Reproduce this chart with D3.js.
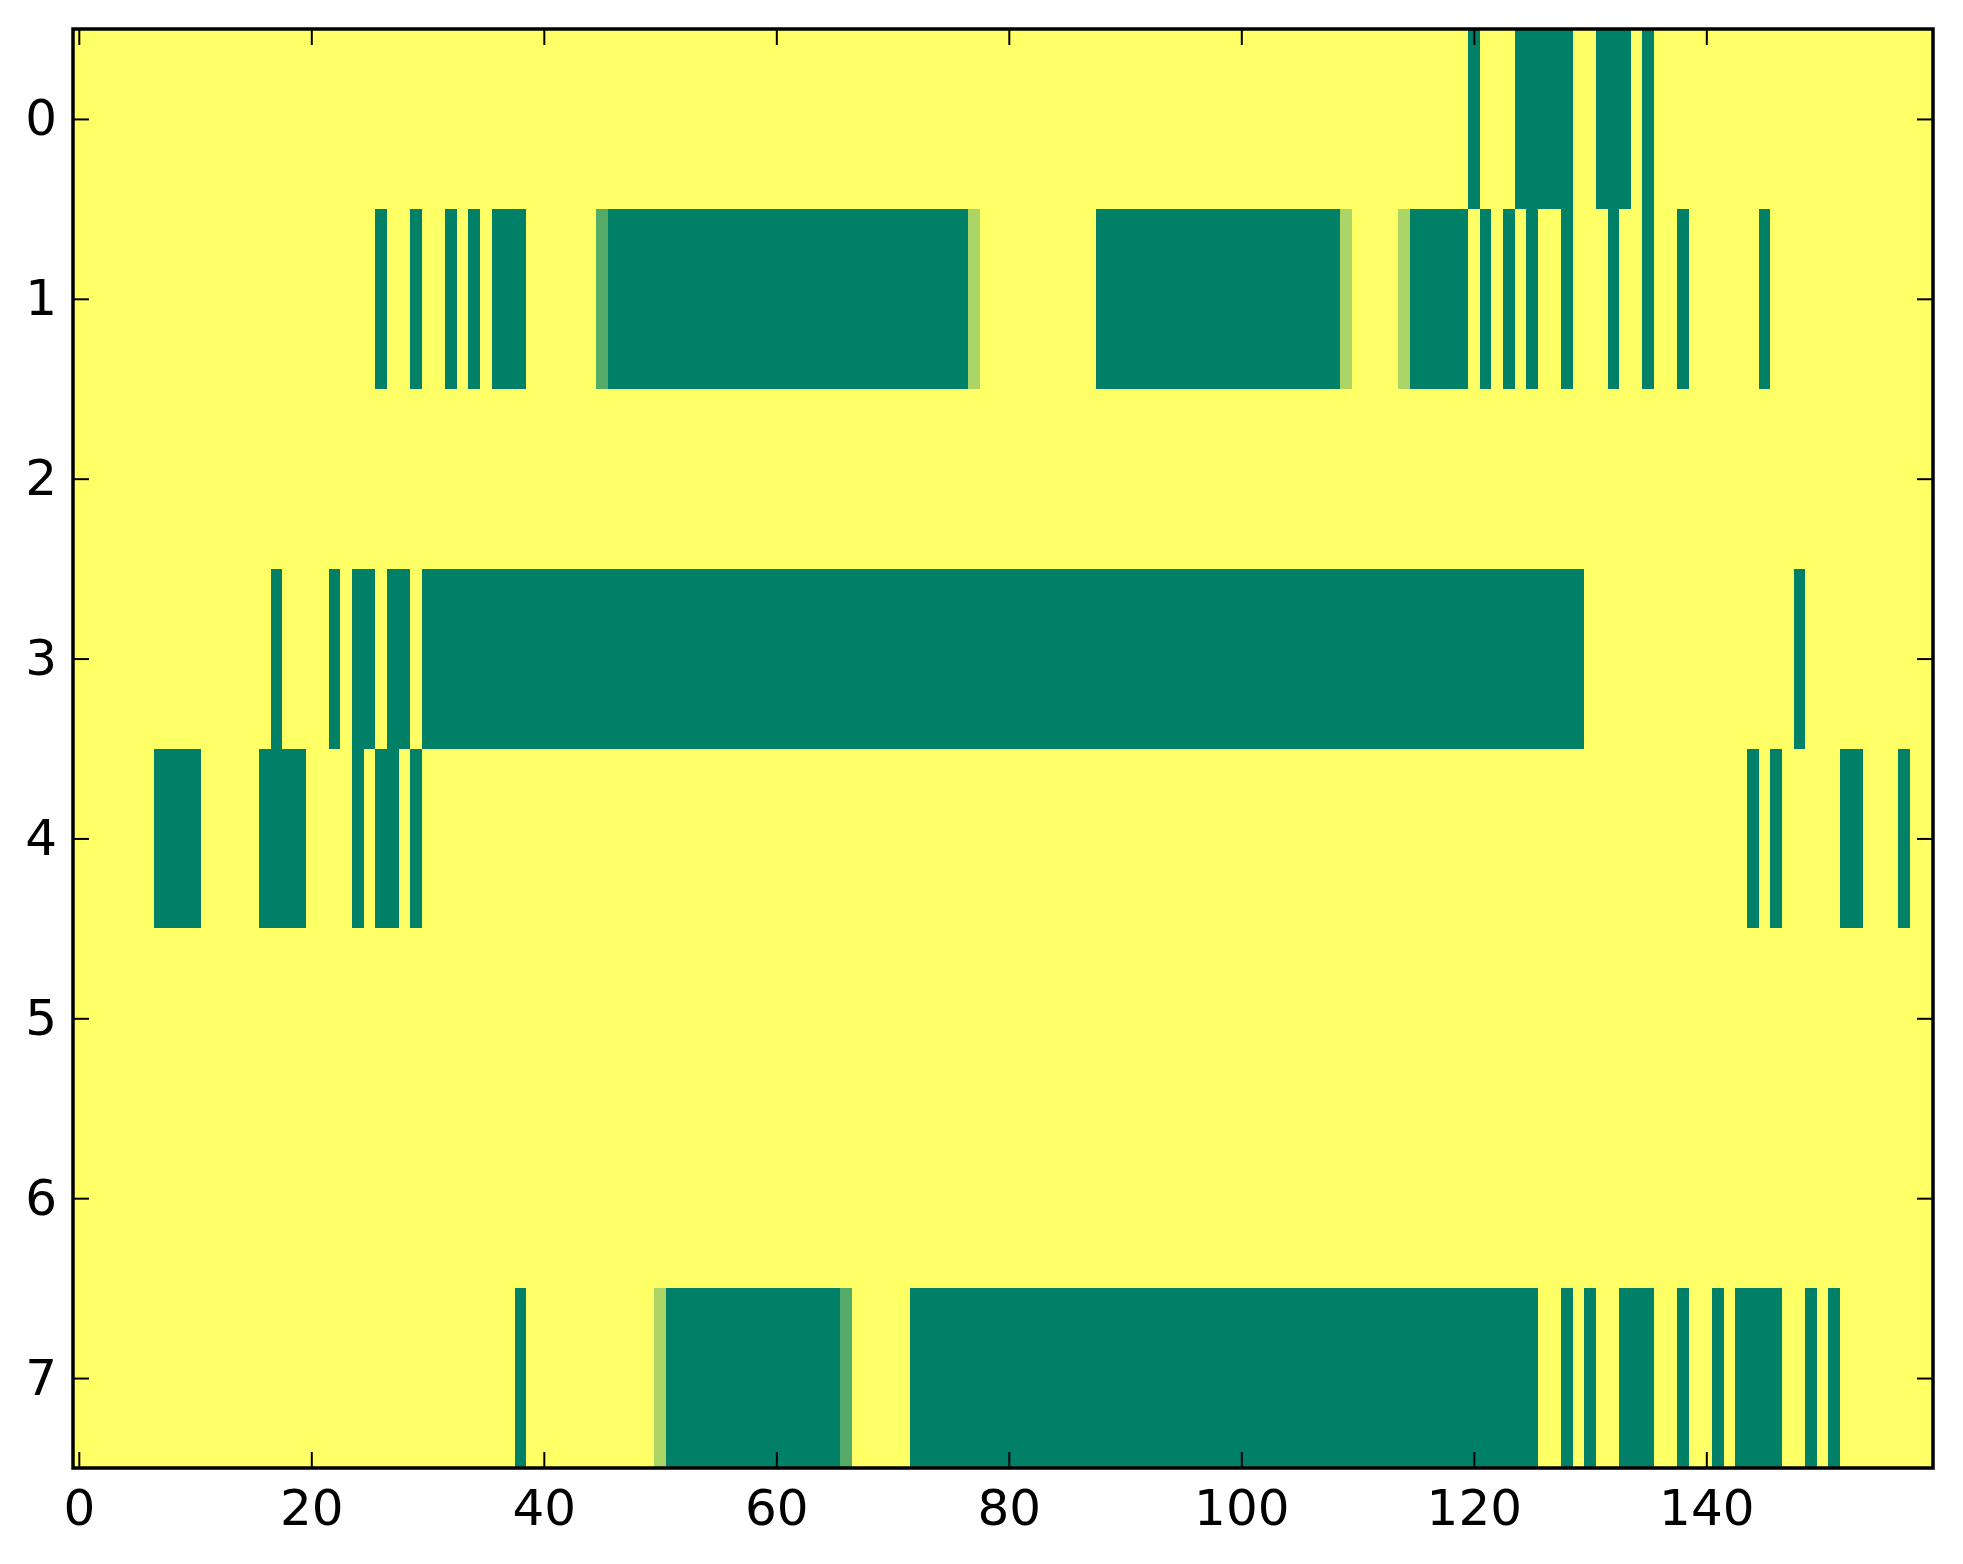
<!doctype html>
<html>
  <head>
    <style>
      body {
        margin: 0;
        background: white;
      }
      .axis text {
        font-family: 'DejaVu Sans', sans-serif;
        font-size: 50px;
        fill: black;
      }
      .axis line {
        stroke: black;
        stroke-width: 2px;
      }
    </style>
    <script src="https://d3js.org/d3.v7.min.js"></script>
  </head>

  <body onload='init()'>
    <svg class="chart" width=1963 height=1564></svg>
    <script>
      // one array per row of the image, 160 values each (1 = yellow, 0 = green)
      var row0 = [
        1,1,1,1,1,1,1,1,1,1,1,1,1,1,1,1,1,1,1,1,
        1,1,1,1,1,1,1,1,1,1,1,1,1,1,1,1,1,1,1,1,
        1,1,1,1,1,1,1,1,1,1,1,1,1,1,1,1,1,1,1,1,
        1,1,1,1,1,1,1,1,1,1,1,1,1,1,1,1,1,1,1,1,
        1,1,1,1,1,1,1,1,1,1,1,1,1,1,1,1,1,1,1,1,
        1,1,1,1,1,1,1,1,1,1,1,1,1,1,1,1,1,1,1,1,
        0,1,1,1,0,0,0,0,0,1,1,0,0,0,1,0,1,1,1,1,
        1,1,1,1,1,1,1,1,1,1,1,1,1,1,1,1,1,1,1,1
      ];
      var row1 = [
        1,1,1,1,1,1,1,1,1,1,1,1,1,1,1,1,1,1,1,1,
        1,1,1,1,1,1,0,1,1,0,1,1,0,1,0,1,0,0,0,1,
        1,1,1,1,1,0.33,0,0,0,0,0,0,0,0,0,0,0,0,0,0,
        0,0,0,0,0,0,0,0,0,0,0,0,0,0,0,0,0,0.67,1,1,
        1,1,1,1,1,1,1,1,0,0,0,0,0,0,0,0,0,0,0,0,
        0,0,0,0,0,0,0,0,0,0.67,1,1,1,1,0.67,0,0,0,0,0,
        1,0,1,0,1,0,1,1,0,1,1,1,0,1,1,0,1,1,0,1,
        1,1,1,1,1,0,1,1,1,1,1,1,1,1,1,1,1,1,1,1
      ];
      var row2 = [
        1,1,1,1,1,1,1,1,1,1,1,1,1,1,1,1,1,1,1,1,
        1,1,1,1,1,1,1,1,1,1,1,1,1,1,1,1,1,1,1,1,
        1,1,1,1,1,1,1,1,1,1,1,1,1,1,1,1,1,1,1,1,
        1,1,1,1,1,1,1,1,1,1,1,1,1,1,1,1,1,1,1,1,
        1,1,1,1,1,1,1,1,1,1,1,1,1,1,1,1,1,1,1,1,
        1,1,1,1,1,1,1,1,1,1,1,1,1,1,1,1,1,1,1,1,
        1,1,1,1,1,1,1,1,1,1,1,1,1,1,1,1,1,1,1,1,
        1,1,1,1,1,1,1,1,1,1,1,1,1,1,1,1,1,1,1,1
      ];
      var row3 = [
        1,1,1,1,1,1,1,1,1,1,1,1,1,1,1,1,1,0,1,1,
        1,1,0,1,0,0,1,0,0,1,0,0,0,0,0,0,0,0,0,0,
        0,0,0,0,0,0,0,0,0,0,0,0,0,0,0,0,0,0,0,0,
        0,0,0,0,0,0,0,0,0,0,0,0,0,0,0,0,0,0,0,0,
        0,0,0,0,0,0,0,0,0,0,0,0,0,0,0,0,0,0,0,0,
        0,0,0,0,0,0,0,0,0,0,0,0,0,0,0,0,0,0,0,0,
        0,0,0,0,0,0,0,0,0,0,1,1,1,1,1,1,1,1,1,1,
        1,1,1,1,1,1,1,1,0,1,1,1,1,1,1,1,1,1,1,1
      ];
      var row4 = [
        1,1,1,1,1,1,1,0,0,0,0,1,1,1,1,1,0,0,0,0,
        1,1,1,1,0,1,0,0,1,0,1,1,1,1,1,1,1,1,1,1,
        1,1,1,1,1,1,1,1,1,1,1,1,1,1,1,1,1,1,1,1,
        1,1,1,1,1,1,1,1,1,1,1,1,1,1,1,1,1,1,1,1,
        1,1,1,1,1,1,1,1,1,1,1,1,1,1,1,1,1,1,1,1,
        1,1,1,1,1,1,1,1,1,1,1,1,1,1,1,1,1,1,1,1,
        1,1,1,1,1,1,1,1,1,1,1,1,1,1,1,1,1,1,1,1,
        1,1,1,1,0,1,0,1,1,1,1,1,0,0,1,1,1,0,1,1
      ];
      var row5 = [
        1,1,1,1,1,1,1,1,1,1,1,1,1,1,1,1,1,1,1,1,
        1,1,1,1,1,1,1,1,1,1,1,1,1,1,1,1,1,1,1,1,
        1,1,1,1,1,1,1,1,1,1,1,1,1,1,1,1,1,1,1,1,
        1,1,1,1,1,1,1,1,1,1,1,1,1,1,1,1,1,1,1,1,
        1,1,1,1,1,1,1,1,1,1,1,1,1,1,1,1,1,1,1,1,
        1,1,1,1,1,1,1,1,1,1,1,1,1,1,1,1,1,1,1,1,
        1,1,1,1,1,1,1,1,1,1,1,1,1,1,1,1,1,1,1,1,
        1,1,1,1,1,1,1,1,1,1,1,1,1,1,1,1,1,1,1,1
      ];
      var row6 = [
        1,1,1,1,1,1,1,1,1,1,1,1,1,1,1,1,1,1,1,1,
        1,1,1,1,1,1,1,1,1,1,1,1,1,1,1,1,1,1,1,1,
        1,1,1,1,1,1,1,1,1,1,1,1,1,1,1,1,1,1,1,1,
        1,1,1,1,1,1,1,1,1,1,1,1,1,1,1,1,1,1,1,1,
        1,1,1,1,1,1,1,1,1,1,1,1,1,1,1,1,1,1,1,1,
        1,1,1,1,1,1,1,1,1,1,1,1,1,1,1,1,1,1,1,1,
        1,1,1,1,1,1,1,1,1,1,1,1,1,1,1,1,1,1,1,1,
        1,1,1,1,1,1,1,1,1,1,1,1,1,1,1,1,1,1,1,1
      ];
      var row7 = [
        1,1,1,1,1,1,1,1,1,1,1,1,1,1,1,1,1,1,1,1,
        1,1,1,1,1,1,1,1,1,1,1,1,1,1,1,1,1,1,0,1,
        1,1,1,1,1,1,1,1,1,1,0.67,0,0,0,0,0,0,0,0,0,
        0,0,0,0,0,0,0.33,1,1,1,1,1,0,0,0,0,0,0,0,0,
        0,0,0,0,0,0,0,0,0,0,0,0,0,0,0,0,0,0,0,0,
        0,0,0,0,0,0,0,0,0,0,0,0,0,0,0,0,0,0,0,0,
        0,0,0,0,0,0,1,1,0,1,0,1,1,0,0,0,1,1,0,1,
        1,0,1,0,0,0,0,1,1,0,1,0,1,1,1,1,1,1,1,1
      ];
      var rows = [row0, row1, row2, row3, row4, row5, row6, row7];

      var xTicks = [0, 20, 40, 60, 80, 100, 120, 140];
      var yTicks = [0, 1, 2, 3, 4, 5, 6, 7];

      function init(){
        var svg = d3.select("svg"),
          left = 73,
          right = 1933,
          top = 29,
          bottom = 1468;

        var nCols = row0.length;
        var xScale = d3.scaleLinear().domain([-0.5, nCols - 0.5]).range([left, right]);
        var yScale = d3.scaleLinear().domain([-0.5, rows.length - 0.5]).range([top, bottom]);
        // matplotlib "summer": green at 0, yellow at 1
        var color = d3.scaleLinear().domain([0, 1])
          .range(["rgb(0,128,102)", "rgb(255,255,102)"]);

        var cells = [];
        rows.forEach(function(r, i){
          r.forEach(function(v, j){ cells.push({row: i, col: j, value: v}); });
        });

        svg.append("g")
          .selectAll("rect")
          .data(cells)
          .enter().append("rect")
          .attr("x", function(d){return xScale(d.col - 0.5);} )
          .attr("y", function(d){return yScale(d.row - 0.5);} )
          .attr("width", function(d){return xScale(d.col + 0.5) - xScale(d.col - 0.5) + 0.5;} )
          .attr("height", function(d){return yScale(d.row + 0.5) - yScale(d.row - 0.5) + 0.5;} )
          .attr("fill", function(d){return color(d.value);} )
          .attr("shape-rendering", "crispEdges");

        var tick = 16;

        svg.append("g").attr("class", "axis")
          .attr("transform", "translate(0," + bottom + ")")
          .call(d3.axisBottom(xScale).tickValues(xTicks).tickSize(-tick).tickPadding(21))
          .call(function(g){ g.select(".domain").remove(); });
        svg.append("g").attr("class", "axis")
          .attr("transform", "translate(0," + top + ")")
          .call(d3.axisTop(xScale).tickValues(xTicks).tickSize(-tick).tickFormat(""))
          .call(function(g){ g.select(".domain").remove(); });
        svg.append("g").attr("class", "axis")
          .attr("transform", "translate(" + left + ",0)")
          .call(d3.axisLeft(yScale).tickValues(yTicks).tickSize(-tick).tickPadding(16))
          .call(function(g){ g.select(".domain").remove(); });
        svg.append("g").attr("class", "axis")
          .attr("transform", "translate(" + right + ",0)")
          .call(d3.axisRight(yScale).tickValues(yTicks).tickSize(-tick).tickFormat(""))
          .call(function(g){ g.select(".domain").remove(); });

        svg.selectAll(".axis text").attr("font-family", null).attr("font-size", null);

        svg.append("rect")
          .attr("x", left)
          .attr("y", top)
          .attr("width", right - left)
          .attr("height", bottom - top)
          .attr("fill", "none")
          .attr("stroke", "black")
          .attr("stroke-width", 3.5);
      }
    </script>
  </body>
</html>
